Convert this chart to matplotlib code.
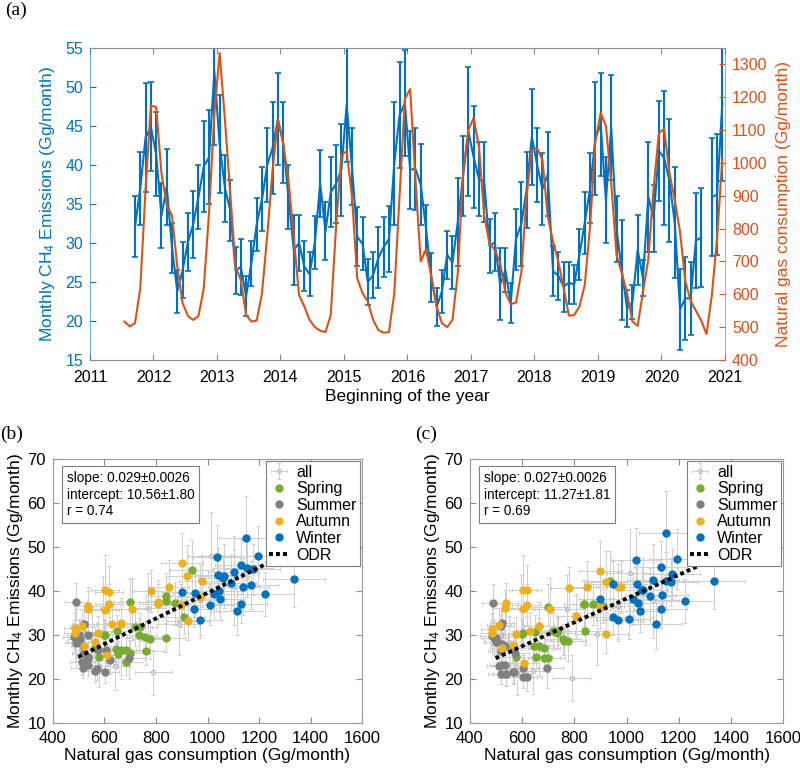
import numpy as np
import matplotlib
matplotlib.use("Agg")
import matplotlib.pyplot as plt

plt.rcParams['font.family'] = ['Liberation Sans', 'DejaVu Sans']
plt.rcParams['mathtext.fontset'] = 'custom'
plt.rcParams['mathtext.rm'] = 'Liberation Sans'
plt.rcParams['mathtext.it'] = 'Liberation Sans:italic'

# ---------------- data ----------------
# natural gas consumption (Gg/month), monthly from Jul 2011 to Dec 2020
gas_start = (2011, 7)
gas = [
    517, 502, 512, 618, 920, 1175,                                  # 2011 Jul-Dec
    1170, 969, 872, 839, 684, 573, 534, 522, 534, 618, 850, 1150,   # 2012
    1335, 1131, 908, 684, 644, 537, 517, 520, 603, 780, 979, 1131,  # 2013
    1060, 949, 776, 598, 563, 522, 500, 489, 485, 537, 806, 1025,   # 2014
    1035, 900, 649, 603, 578, 522, 491, 483, 485, 603, 900, 1195,   # 2015
    1225, 950, 700, 737, 654, 563, 512, 500, 522, 664, 969, 1101,   # 2016
    1137, 1050, 837, 756, 735, 695, 605, 570, 575, 665, 898, 1040,  # 2017
    1045, 1010, 837, 761, 700, 620, 535, 537, 563, 629, 806, 1065,  # 2018
    1152, 1113, 938, 720, 664, 603, 517, 504, 608, 705, 923, 1091,  # 2019
    1103, 969, 888, 790, 640, 580, 550, 520, 479, 595, 770, 1015,   # 2020
]

# monthly CH4 emissions (Gg/month), Sep 2011 to Dec 2020 (Sep 2020 missing)
ch4_start = (2011, 9)
ch4 = [
    32.1, 37.0, 43.5, 44.9,
    41.4, 33.5, 37.2, 29.4, 23.8, 26.5, 30.1, 32.4, 35.9, 39.8, 41.0, 52.0,
    42.7, 37.0, 34.2, 26.5, 26.9, 23.2, 27.4, 32.4, 35.6, 40.0, 42.2, 45.9,
    42.9, 35.9, 29.1, 30.0, 27.0, 26.0, 30.1, 37.6, 31.5, 36.5, 37.6, 39.4,
    47.7, 39.8, 30.8, 29.9, 25.0, 25.9, 28.1, 29.5, 30.5, 40.2, 46.4, 47.9,
    39.4, 39.5, 37.5, 31.8, 25.6, 21.8, 23.8, 28.5, 27.5, 32.7, 38.6, 44.3,
    41.0, 38.2, 37.8, 29.6, 30.1, 24.7, 26.5, 22.3, 30.5, 32.4, 36.8, 43.6,
    40.0, 36.9, 38.8, 26.4, 25.8, 24.4, 24.9, 24.7, 28.5, 32.6, 37.0, 43.4,
    45.2, 35.5, 44.8, 31.8, 26.5, 21.6, 22.4, 29.1, 25.5, 35.9, 33.2, 41.8,
    40.9, 38.0, 32.6, 21.5, 22.9, 22.9, 30.3, 30.7, np.nan, 35.9, 36.2, 48.0,
]
ch4_err = [
    3.9, 4.7, 7.0, 5.7,
    5.4, 4.2, 4.9, 3.2, 2.8, 3.6, 3.7, 4.3, 4.1, 5.8, 6.0, 9.5,
    6.3, 4.3, 3.9, 3.0, 3.6, 2.6, 2.9, 3.4, 4.1, 4.8, 5.9, 5.9,
    5.2, 4.1, 4.5, 3.6, 3.2, 2.8, 3.4, 4.3, 3.7, 4.5, 5.0, 5.9,
    7.3, 4.9, 3.8, 3.4, 3.0, 2.9, 3.9, 3.8, 4.2, 7.9, 6.8, 6.8,
    5.0, 5.3, 5.2, 3.1, 3.1, 2.4, 2.8, 3.1, 3.4, 5.6, 5.1, 8.3,
    6.5, 4.8, 5.1, 3.5, 3.7, 4.6, 2.8, 2.6, 3.9, 5.4, 4.9, 6.1,
    4.8, 4.6, 5.4, 3.2, 3.1, 3.2, 2.7, 2.5, 3.3, 4.0, 4.5, 7.3,
    6.6, 5.5, 6.7, 4.2, 6.4, 2.4, 2.2, 4.5, 2.3, 7.0, 4.3, 6.4,
    8.6, 7.9, 7.1, 5.2, 5.3, 4.7, 6.1, 6.4, np.nan, 7.6, 7.8, 10.0,
]
# CH4 emissions of the alternative estimate shown in panel (c), same months
ch4_c = [
    32.2, 36.9, 42.0, 43.9,
    42.1, 33.4, 37.1, 30.9, 24.8, 25.8, 27.5, 32.8, 36.2, 40.2, 40.9, 53.2,
    42.3, 35.9, 36.6, 27.1, 27.4, 21.1, 26.4, 32.0, 36.0, 40.6, 41.0, 45.4,
    40.3, 34.2, 28.6, 30.2, 27.0, 27.9, 29.4, 37.3, 31.3, 37.3, 34.4, 38.2,
    47.1, 38.2, 30.7, 30.4, 25.1, 23.2, 29.4, 29.8, 30.5, 40.2, 44.6, 47.2,
    37.7, 41.5, 36.4, 30.8, 25.0, 21.5, 23.0, 28.3, 27.0, 32.0, 41.0, 42.4,
    39.0, 35.4, 37.1, 29.0, 30.5, 22.5, 22.6, 21.5, 30.2, 32.0, 36.3, 41.7,
    37.3, 33.7, 37.1, 28.6, 24.7, 20.4, 23.2, 21.1, 27.7, 30.9, 34.4, 40.3,
    42.2, 32.4, 42.3, 30.8, 27.4, 20.4, 21.1, 28.3, 23.6, 35.9, 30.3, 38.9,
    38.0, 36.5, 30.3, 20.2, 21.9, 21.1, 28.3, 29.8, np.nan, 36.0, 35.9, 44.2,
]
gas_rel_unc = 0.09          # relative uncertainty of gas consumption
seasonal_last_year = 2019   # seasonal markers shown through 2019
seasons = ['Spring', 'Summer', 'Autumn', 'Winter']
season_months = {'Spring': [3, 4, 5], 'Summer': [6, 7, 8],
                 'Autumn': [9, 10, 11], 'Winter': [12, 1, 2]}
fit_b = {'slope': 0.029, 'slope_err': 0.0026, 'icpt': 10.56, 'icpt_err': 1.80, 'r': 0.74}
fit_c = {'slope': 0.027, 'slope_err': 0.0026, 'icpt': 11.27, 'icpt_err': 1.81, 'r': 0.69}

# ---------------- styles ----------------
BLUE = '#0072BD'
ORANGE = '#D95319'
season_colors = {'Spring': '#77AC30', 'Summer': '#808080',
                 'Autumn': '#EDB120', 'Winter': '#0072BD'}
GREY = '#8c8c8c'


def month_axis(start, n):
    y0, m0 = start
    yrs, mons, tt = [], [], []
    for i in range(n):
        k = (m0 - 1) + i
        y, m = y0 + k // 12, k % 12 + 1
        yrs.append(y)
        mons.append(m)
        tt.append(y + (m - 0.5) / 12)
    return np.array(yrs), np.array(mons), np.array(tt)


gy, gm, t_gas = month_axis(gas_start, len(gas))
cy, cm, t_ch4 = month_axis(ch4_start, len(ch4))
gas_arr = np.array(gas, float)
ch4_arr = np.array(ch4, float)
ch4_err_arr = np.array(ch4_err, float)
ch4_c_arr = np.array(ch4_c, float)
offset = len(gas) - len(ch4)
gas_pts = gas_arr[offset:]

fig = plt.figure(figsize=(8, 7.68), dpi=100)

# ---------------- panel (a) ----------------
ax = fig.add_axes([0.1125, 0.53125, 0.79375, 0.40625])
ax2 = ax.twinx()
ax.errorbar(t_ch4, ch4_arr, yerr=ch4_err_arr, color=BLUE, lw=1.5,
            elinewidth=1.5, capsize=2.2, capthick=1.2, zorder=2)
ax2.plot(t_gas, gas_arr, color=ORANGE, lw=1.5, zorder=3)
ax.set_xlim(2011, 2021)
ax.set_ylim(15, 55)
ax2.set_ylim(400, 1350)
ax.set_xticks(range(2011, 2022))
ax.set_yticks(range(15, 56, 5))
ax2.set_yticks(range(400, 1301, 100))
ax.tick_params(axis='x', direction='in', top=True, length=4, color=GREY,
               labelsize=11.5, labelcolor='black', pad=7)
ax.tick_params(axis='y', direction='in', length=4, color=BLUE, labelcolor=BLUE,
               labelsize=11.5, pad=5)
ax2.tick_params(axis='y', direction='in', length=4, color=ORANGE,
                labelcolor=ORANGE, labelsize=11.5, pad=5)
for s in ['top', 'bottom']:
    ax.spines[s].set_color(GREY)
ax.spines['left'].set_color((0.0, 0.447, 0.741, 0.55))
ax.spines['right'].set_visible(False)
ax2.spines['right'].set_color((0.85, 0.325, 0.098, 0.55))
for s in ['left', 'top', 'bottom']:
    ax2.spines[s].set_visible(False)
ax.set_ylabel('Monthly CH$_4$ Emissions (Gg/month)', color=BLUE, fontsize=12.5,
              labelpad=6)
ax2.set_ylabel('Natural gas consumption (Gg/month)', color=ORANGE, fontsize=12.5,
               labelpad=6)
ax.set_xlabel('Beginning of the year', fontsize=12.5, labelpad=3)


# ---------------- panels (b) and (c) ----------------
def scatter_panel(axs, yvals, fit):
    h_all = axs.errorbar(gas_pts, yvals, xerr=gas_pts * gas_rel_unc, yerr=ch4_err_arr,
                         fmt='o', ms=3, mfc='none', mec='#b5b5b5', mew=0.7,
                         ecolor='#cfcfcf', elinewidth=0.7, capsize=1.5, capthick=0.7,
                         label='all', zorder=1)
    handles = [h_all]
    for s in seasons:
        sel = np.isin(cm, season_months[s]) & (cy <= seasonal_last_year) & ~np.isnan(yvals)
        h, = axs.plot(gas_pts[sel], yvals[sel], 'o', ms=5, color=season_colors[s],
                      mec=season_colors[s], label=s, zorder=3, linestyle='none')
        handles.append(h)
    valid = ~np.isnan(yvals)
    xl = np.array([gas_pts[valid].min() + 15, gas_pts[valid].max()])
    h_odr, = axs.plot(xl, fit['icpt'] + fit['slope'] * xl, linestyle=(0, (1, 0.8)),
                      color='black', lw=2.8, label='ODR', zorder=4)
    handles.append(h_odr)
    axs.set_xlim(400, 1600)
    axs.set_ylim(10, 70)
    axs.set_xticks(range(400, 1601, 200))
    axs.set_yticks(range(10, 71, 10))
    axs.tick_params(direction='in', top=True, right=True, length=4, color=GREY,
                    labelsize=12)
    axs.tick_params(axis='x', pad=6)
    axs.tick_params(axis='y', pad=5)
    for sp in axs.spines.values():
        sp.set_color('#9a9a9a')
        sp.set_linewidth(0.8)
    axs.set_xlabel('Natural gas consumption (Gg/month)', fontsize=12.5, labelpad=1)
    axs.set_ylabel('Monthly CH$_4$ Emissions (Gg/month)', fontsize=12.5, labelpad=2)
    txt = (f"slope: {fit['slope']:.3f}\u00b1{fit['slope_err']:.4f}\n"
           f"intercept: {fit['icpt']:.2f}\u00b1{fit['icpt_err']:.2f}\n"
           f"r = {fit['r']:.2f}")
    axs.text(0.045, 0.955, txt, transform=axs.transAxes, va='top', ha='left',
             fontsize=9.8, linespacing=1.25, zorder=6,
             bbox=dict(boxstyle='square,pad=0.35', fc='white', ec='#7f7f7f', lw=0.8))
    leg = axs.legend(handles=handles, labels=['all'] + seasons + ['ODR'],
                     loc='upper right', fontsize=11.5, frameon=True, fancybox=False,
                     framealpha=1, edgecolor='#7f7f7f', borderaxespad=0.15,
                     handlelength=1.3, handletextpad=0.4, labelspacing=0.1,
                     borderpad=0.2)
    leg.get_frame().set_linewidth(0.8)
    leg.set_zorder(7)


axb = fig.add_axes([0.06625, 0.0586, 0.38625, 0.34375])
scatter_panel(axb, ch4_arr, fit_b)
axc = fig.add_axes([0.5875, 0.0586, 0.39125, 0.34375])
scatter_panel(axc, ch4_c_arr, fit_c)

# panel letters
serif = ['Liberation Serif', 'DejaVu Serif']
fig.text(0.006, 0.986, '(a)', family=serif, fontsize=14, va='center', ha='left')
fig.text(0.0, 0.434, '(b)', family=serif, fontsize=14, va='center', ha='left')
fig.text(0.519, 0.434, '(c)', family=serif, fontsize=14, va='center', ha='left')

fig.savefig('out.png', dpi=100)
